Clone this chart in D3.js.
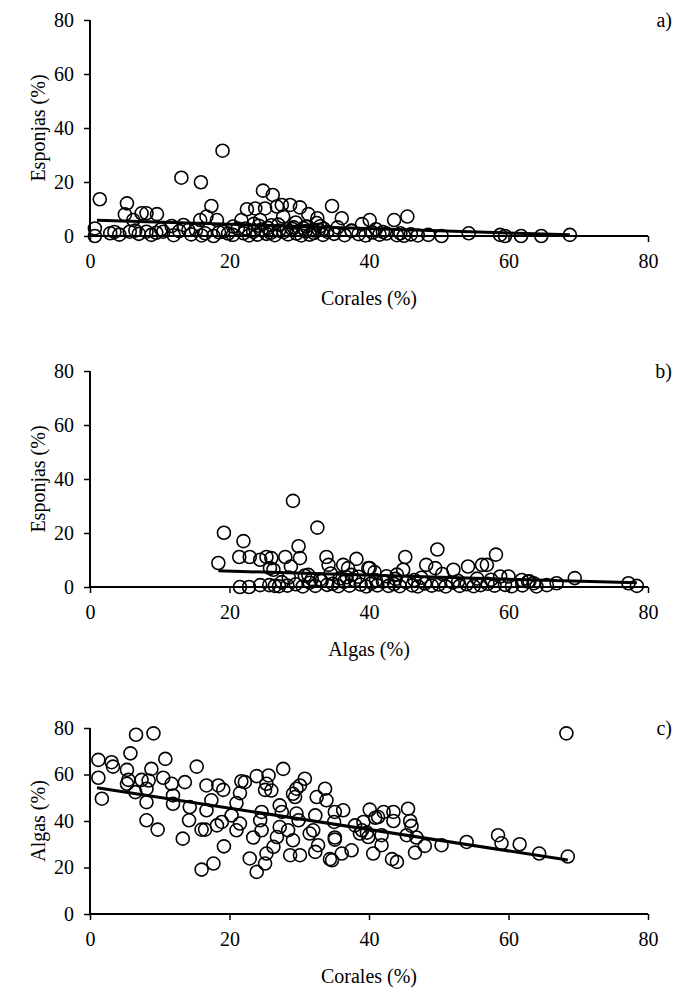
<!DOCTYPE html>
<html>
<head>
<meta charset="utf-8">
<script src="https://cdn.jsdelivr.net/npm/d3@7"></script>
<style>
	body { margin: 0; background: #fff; }
	svg text { font-family: "Liberation Serif", "Times New Roman", Times, serif !important; fill: #000; }
</style>
</head>
<body>
<svg id="chart" width="678" height="992"></svg>
<script>
// panel a) esponjas vs corales
let coralesA = [1.4,0.7,0.7,2.9,5.3,5.0,6.2,7.4,8.1,9.6,5.7,8.1,8.8,10.5,11.7,13.1,13.4,14.1,15.9,15.8,16.7,17.4,18.2,19.0,19.1,17.7,16.5,
	21.7,22.5,23.7,24.8,26.2,25.1,26.8,27.5,28.7,30.1,31.3,32.6,34.7,36.1,39.0,40.1,24.4,27.7,43.6,45.5,50.4,54.3,58.8,59.5,61.8,64.7,68.8,
	3.5,4.2,6.5,7.0,9.5,10.2,12.0,12.8,14.5,15.2,16.0,18.5,19.8,20.5,21.2,22.0,22.8,23.4,24.0,24.6,25.3,25.9,26.5,27.1,27.8,28.4,29.0,29.6,
	30.3,30.9,31.5,32.1,32.8,33.4,34.0,35.0,36.5,37.5,38.5,39.5,40.5,41.5,42.5,44.0,45.0,46.0,47.0,48.5,
	20.5,22.3,23.5,25.5,27.0,28.2,29.5,31.0,32.5,33.5,35.5,37.5,41.0,42.0,44.5,24.2,26.0,29.2,30.6,32.0,33.0];
let esponjasA = [13.6,2.8,0,1,12.1,8,5.9,8.4,8.4,8.1,1.6,1.6,0.4,1.6,3.7,21.6,4.1,2.2,19.9,5.9,7.2,11.1,5.9,31.6,1.6,0,1,
	5.9,9.9,10.2,16.8,15.2,10.2,10.9,11.5,11.5,10.6,8.1,6.6,11.1,6.6,4.4,5.9,5.9,7.2,5.9,7.2,0,1,0.4,0,0,0,0.4,
	1.5,0.5,2.0,0.8,1.2,2.5,0.3,1.8,0.6,2.2,0.2,1.4,0.9,0.4,2.8,1.0,0.2,1.6,0.5,2.4,0.8,1.2,0.3,2.0,1.5,0.6,2.6,0.9,
	0.2,1.8,0.5,1.1,2.3,0.4,1.6,0.8,0.3,1.9,0.7,0.2,1.3,0.5,0.9,0.3,0.1,0.6,0.2,0.4,
	3.5,2.8,4.5,3.0,4.2,2.5,5.0,3.5,4.8,2.7,3.2,2.0,2.5,1.5,1.0,3.8,4.0,3.2,2.9,2.1,3.6];

// panel b) esponjas vs algas
let algasB = [18.4,19.2,22.0,21.4,22.9,24.4,25.3,26.0,25.8,26.3,28.0,29.1,28.8,29.9,30.1,32.6,31.3,33.9,34.2,36.3,38.2,37.0,39.9,
	40.1,45.2,44.9,48.2,49.8,49.5,52.1,54.2,56.2,56.9,58.2,58.8,61.9,62.8,63.6,65.5,66.9,69.5,77.2,78.4,
	21.5,22.8,24.4,25.7,27.1,28.3,29.5,30.5,31.5,32.3,33.2,34.0,34.8,35.6,36.4,37.2,38.0,38.8,39.6,40.4,41.2,42.0,42.8,
	43.6,44.4,45.3,46.2,47.0,48.0,49.0,50.0,51.0,52.0,53.0,54.0,55.0,56.0,57.0,58.0,59.5,60.5,62.0,64.0,
	26.5,28.5,30.8,33.0,34.5,35.8,37.5,38.5,41.0,42.5,43.8,46.5,47.5,50.5,52.8,55.5,57.5,60.0,63.0,27.5,31.8,36.8,40.8,44.0];
let esponjasB = [8.9,20.1,17.0,11.1,11.1,10.1,11.1,10.7,7.0,6.4,11.1,31.9,7.6,15.1,10.7,22.0,4.5,11.1,8.2,8.2,10.4,7.0,7.0,
	7.0,11.1,6.4,8.2,13.9,7.0,6.4,7.6,8.2,8.2,12.0,3.9,2.6,2.0,1.4,0.7,1.4,3.3,1.4,0.4,
	0,0,0.7,0.7,0.3,0.5,1.0,0.2,1.6,0.4,2.2,0.8,1.2,0.3,1.9,0.5,2.4,0.9,0.2,1.5,0.6,2.0,0.4,
	1.1,0.3,1.8,0.6,0.2,1.3,0.5,0.9,0.2,1.6,0.4,1.0,0.3,0.7,1.2,0.5,0.8,0.3,0.6,0.2,0.4,
	3.5,4.2,2.8,5.0,3.2,4.5,3.8,2.5,4.0,3.0,2.6,3.4,4.8,2.2,3.1,2.7,3.9,2.1,1.8,2.9,3.6,5.5,4.6,2.4];

// panel c) algas vs corales
let coralesC = [1.2,1.2,1.7,3.1,3.3,5.3,5.5,5.3,6.5,6.6,5.8,9.1,7.4,8.1,8.4,8.8,8.1,8.1,9.7,10.8,10.5,11.7,11.9,11.9,13.6,14.3,14.2,13.3,
	15.3,16.0,16.0,16.7,16.5,16.7,17.4,17.7,18.4,19.1,18.2,18.9,19.2,21.0,21.5,21.7,22.2,21.0,21.5,20.3,22.9,23.9,23.9,25.1,24.6,24.4,
	25.1,25.6,25.3,23.4,24.6,26.0,25.3,26.3,26.8,27.2,27.7,27.2,27.5,29.1,29.4,29.6,30.1,30.8,28.7,30.1,28.4,29.6,29.9,29.1,31.5,32.0,
	32.5,33.7,33.9,32.3,32.3,32.7,34.7,35.1,35.0,36.3,36.1,37.5,38.0,38.7,39.2,40.1,40.6,39.9,41.3,35.1,35.1,34.4,39.0,39.7,40.9,
	42.1,41.8,41.8,43.5,43.5,43.3,44.0,45.6,45.9,46.1,45.4,46.8,46.6,48.0,50.4,54.0,58.5,59.0,61.6,64.4,68.5,68.3];
let algasC = [66.3,58.6,49.6,65.3,63.4,62.0,57.7,56.0,52.4,77.1,69.1,77.7,57.7,53.9,57.4,62.4,48.1,40.3,36.3,66.7,58.6,56.0,51.0,47.4,56.7,46.0,40.3,32.4,
	63.4,36.3,19.1,55.3,36.3,44.6,48.9,21.7,55.3,53.4,38.1,39.6,29.1,47.7,52.0,57.1,56.7,36.0,38.9,42.4,23.9,59.3,18.1,21.7,43.9,40.3,
	53.4,59.6,56.0,32.9,36.0,53.1,26.0,28.9,33.1,37.4,62.4,46.7,43.9,51.7,50.3,53.9,55.3,58.2,25.3,25.3,36.0,43.2,40.3,31.7,34.6,36.0,
	50.3,53.9,48.9,42.4,26.7,29.6,23.1,32.0,39.6,44.6,26.0,27.4,38.1,34.6,39.6,44.9,26.0,33.1,41.7,43.9,32.9,23.6,36.0,35.0,41.4,
	43.9,29.6,33.9,43.9,40.0,23.6,22.4,45.3,40.0,37.9,33.9,32.9,26.4,29.3,29.6,31.0,33.9,30.4,30.0,26.0,24.7,77.7];

// fitted lines: [x start, x end], intercept, slope
let fitA = {x: [1.0, 68.8], b: 5.95, m: -0.08};
let fitB = {x: [18.4, 78.4], b: 7.37, m: -0.0745};
let fitC = {x: [1.0, 68.5], b: 54.74, m: -0.46};

let axisTicks = [0, 20, 40, 60, 80];

let panels = [
	{top: 20, h: 216, xs: coralesA, ys: esponjasA, fit: fitA, xlab: "Corales (%)", ylab: "Esponjas (%)", tag: "a)"},
	{top: 371, h: 216, xs: algasB, ys: esponjasB, fit: fitB, xlab: "Algas (%)", ylab: "Esponjas (%)", tag: "b)"},
	{top: 728, h: 186, xs: coralesC, ys: algasC, fit: fitC, xlab: "Corales (%)", ylab: "Algas (%)", tag: "c)"}
];

let svg = d3.select("#chart");
let left = 90, right = 648;
let serif = "Liberation Serif, Times New Roman, serif";

panels.forEach((p) => {
	let x = d3.scaleLinear().domain([0, 80]).range([left, right]);
	let y = d3.scaleLinear().domain([0, 80]).range([p.top + p.h, p.top]);
	let g = svg.append("g");

	// axes
	let xAxis = g.append("g")
		.attr("transform", `translate(0,${p.top + p.h})`)
		.call(d3.axisBottom(x).tickValues(axisTicks).tickSize(6).tickPadding(12).tickFormat(d3.format("d")));
	let yAxis = g.append("g")
		.attr("transform", `translate(${left},0)`)
		.call(d3.axisLeft(y).tickValues(axisTicks).tickSize(6).tickPadding(10).tickFormat(d3.format("d")));
	[xAxis, yAxis].forEach((a) => {
		a.attr("font-family", serif).attr("font-size", 20);
		a.select(".domain").remove();
		a.selectAll("line").attr("stroke", "#000").attr("stroke-width", 1.5);
	});
	g.append("line")
		.attr("x1", left).attr("x2", right)
		.attr("y1", y(0)).attr("y2", y(0))
		.attr("stroke", "#000").attr("stroke-width", 2);
	g.append("line")
		.attr("x1", left).attr("x2", left)
		.attr("y1", y(0)).attr("y2", y(80))
		.attr("stroke", "#000").attr("stroke-width", 2);

	// points
	g.selectAll("circle")
		.data(p.xs.map((d, i) => [d, p.ys[i]]))
		.join("circle")
		.attr("cx", d => x(d[0]))
		.attr("cy", d => y(d[1]))
		.attr("r", 6.5)
		.attr("fill", "none")
		.attr("stroke", "#000")
		.attr("stroke-width", 1.6);

	// trend line
	g.append("line")
		.attr("x1", x(p.fit.x[0])).attr("y1", y(p.fit.b + p.fit.m * p.fit.x[0]))
		.attr("x2", x(p.fit.x[1])).attr("y2", y(p.fit.b + p.fit.m * p.fit.x[1]))
		.attr("stroke", "#000")
		.attr("stroke-width", 3);

	// labels
	g.append("text")
		.attr("x", (left + right) / 2)
		.attr("y", p.top + p.h + 64)
		.attr("text-anchor", "middle")
		.attr("dominant-baseline", "middle")
		.attr("font-family", serif)
		.attr("font-size", 20)
		.text(p.xlab);
	g.append("text")
		.attr("transform", `translate(40,${p.top + p.h / 2}) rotate(-90)`)
		.attr("text-anchor", "middle")
		.attr("dominant-baseline", "middle")
		.attr("font-family", serif)
		.attr("font-size", 20)
		.text(p.ylab);
	g.append("text")
		.attr("x", 672)
		.attr("y", p.top + 2)
		.attr("text-anchor", "end")
		.attr("dominant-baseline", "middle")
		.attr("font-family", serif)
		.attr("font-size", 20)
		.text(p.tag);
});
</script>
</body>
</html>
